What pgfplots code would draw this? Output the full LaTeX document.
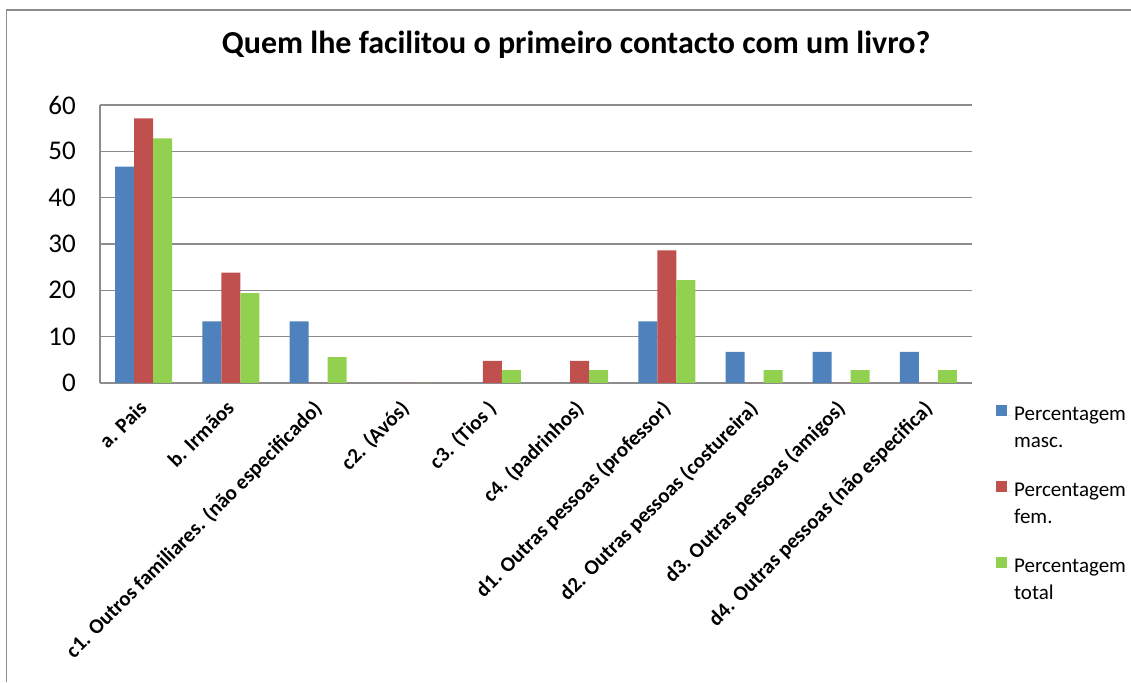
\documentclass[border=0pt]{standalone}
\usepackage{pgfplots}
\pgfplotsset{compat=1.18}
\usepackage{fontspec}
\setmainfont{Carlito}
\definecolor{cblue}{HTML}{4F81BD}
\definecolor{cred}{HTML}{C0504D}
\definecolor{cgreen}{HTML}{92D050}
\definecolor{cgrid}{HTML}{8C8C8C}
\begin{document}
\begin{tikzpicture}[x=1pt,y=1pt]
\useasboundingbox (0,0) rectangle (1131,682);
\draw[cgrid, line width=1.2pt] (6.5,0) -- (6.5,672) -- (1131,672);
\begin{axis}[
  at={(100pt,299pt)}, anchor=south west,
  scale only axis, width=872pt, height=278pt,
  /pgf/number format/assume math mode=true,
  ymin=0, ymax=60, ytick={0,10,...,60},
  xmin=-0.5, xmax=9.5, xtick={0,...,9},
  xticklabels={a. Pais, b. Irmãos, c1. Outros familiares. (não especificado), c2. (Avós), c3. (Tios ), c4.  (padrinhos), d1. Outras pessoas (professor), d2. Outras pessoas (costureira), d3. Outras pessoas (amigos), d4. Outras pessoas (não especifica)},
  ybar=0pt, bar width=19pt,
  ymajorgrids, grid style={cgrid, line width=1.2pt},
  axis x line*=bottom, axis y line*=left,
  axis line style={cgrid, line width=1.2pt, -},
  major tick length=0pt,
  yticklabel style={font=\fontsize{27}{30}\selectfont, inner sep=0pt, xshift=-24pt},
  xticklabel style={font=\fontsize{21}{25}\selectfont\bfseries, inner sep=0pt, yshift=-16pt, xshift=-6pt, rotate=45, anchor=north east},
  title={Quem lhe facilitou o primeiro contacto com um livro?},
  title style={font=\fontsize{32}{36}\selectfont\bfseries, at={(0.546,1.162)}, anchor=base},
  legend style={at={(1.024,-0.07)}, anchor=north west, draw=none, fill=none,
    font=\fontsize{21}{27}\selectfont, cells={anchor=west, align=left}, row sep=30pt},
  legend image code/.code={\draw[#1,draw=none] (0pt,12pt) rectangle (11pt,23pt); \path (0pt,12pt) -- (16pt,12pt);},
]
\addplot[fill=cblue, draw=none] coordinates {(0,46.7) (1,13.3) (2,13.3) (3,0) (4,0) (5,0) (6,13.3) (7,6.7) (8,6.7) (9,6.7)};
\addplot[fill=cred, draw=none] coordinates {(0,57.1) (1,23.8) (2,0) (3,0) (4,4.8) (5,4.8) (6,28.6) (7,0) (8,0) (9,0)};
\addplot[fill=cgreen, draw=none] coordinates {(0,52.8) (1,19.4) (2,5.6) (3,0) (4,2.8) (5,2.8) (6,22.2) (7,2.8) (8,2.8) (9,2.8)};
\legend{Percentagem\\masc., Percentagem\\fem., Percentagem\\total}
\end{axis}
\end{tikzpicture}
\end{document}
